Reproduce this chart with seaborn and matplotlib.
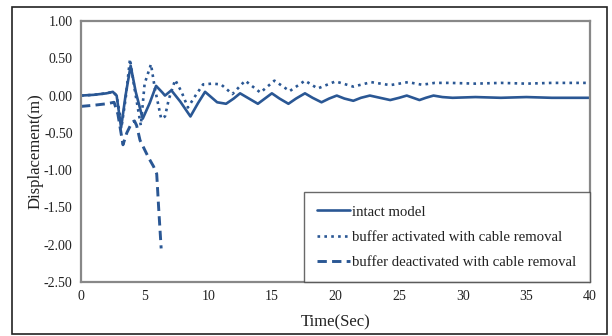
import numpy as np
import pandas as pd
import matplotlib
matplotlib.use("Agg")
import matplotlib.pyplot as plt
import seaborn as sns
from matplotlib.patches import Rectangle

# ---- data ----
t_intact = [0, 1, 2, 2.5, 2.8, 3.15, 3.5, 3.9, 4.3, 4.85, 5.4, 5.9, 6.4, 6.6, 7.1, 7.8, 8.6, 9.2,
            9.75, 10.7, 11.4, 12.0, 12.5, 13.2, 13.9, 14.45, 15.0, 15.6, 16.3, 16.9, 17.6, 18.2,
            18.9, 19.5, 20.1, 20.7, 21.4, 22.0, 22.7, 23.5, 24.3, 25.0, 25.6, 26.1, 26.6, 27.1,
            27.7, 28.4, 29.2, 31, 33, 35, 37, 40]
v_intact = [0.0, 0.01, 0.03, 0.05, 0.0, -0.43, 0.0, 0.40, 0.05, -0.31, -0.1, 0.13, 0.04, 0.0,
            0.07, -0.08, -0.28, -0.1, 0.05, -0.09, -0.11, -0.04, 0.03, -0.04, -0.11, -0.04, 0.03,
            -0.04, -0.11, -0.04, 0.03, -0.03, -0.09, -0.04, 0.0, -0.04, -0.07, -0.03, 0.0, -0.03,
            -0.06, -0.03, 0.0, -0.03, -0.06, -0.03, 0.0, -0.02, -0.03, -0.02, -0.03, -0.02, -0.03,
            -0.03]

t_active = [0, 1, 2, 2.5, 2.8, 3.2, 3.5, 3.85, 4.2, 4.7, 5.0, 5.5, 5.8, 6.3, 6.6, 6.9, 7.4, 7.9,
            8.4, 9.0, 9.6, 10.3, 11.0, 11.9, 12.9, 14.1, 15.2, 16.4, 17.6, 18.6, 20.0, 21.4, 22.8,
            24.3, 25.7, 26.8, 27.8, 29, 31, 33, 35, 37, 40]
v_active = [0.0, 0.01, 0.03, 0.05, 0.0, -0.40, -0.05, 0.49, 0.1, -0.40, 0.16, 0.42, 0.1, -0.31,
            -0.28, -0.05, 0.21, 0.05, -0.16, 0.0, 0.15, 0.16, 0.15, 0.02, 0.20, 0.04, 0.20, 0.06,
            0.20, 0.095, 0.19, 0.12, 0.18, 0.14, 0.18, 0.145, 0.17, 0.17, 0.16, 0.17, 0.16, 0.17,
            0.17]

t_deact = [0, 1, 2, 2.6, 2.9, 3.3, 3.6, 4.0, 4.2, 4.37, 4.64, 5.3, 5.7, 5.95, 6.1, 6.3]
v_deact = [-0.145, -0.13, -0.11, -0.09, -0.25, -0.66, -0.5, -0.36, -0.34, -0.40, -0.6, -0.83,
           -0.95, -1.05, -1.5, -2.05]

labels = ["intact model", "buffer activated with cable removal",
          "buffer deactivated with cable removal"]
y_ticks = [1.0, 0.5, 0.0, -0.5, -1.0, -1.5, -2.0, -2.5]
x_ticks = [0, 5, 10, 15, 20, 25, 30, 35, 40]

sns.set_theme(style="white")
plt.rcParams["font.family"] = ["Liberation Serif", "DejaVu Serif"]

color = "#2A5794"
fig = plt.figure(figsize=(6.12, 3.36), dpi=100)
ax = fig.add_axes([81 / 612, 1 - 282 / 336, (590 - 81) / 612, (282 - 21) / 336])

sns.lineplot(x=t_intact, y=v_intact, ax=ax, color=color, linewidth=1.9,
             label=labels[0], estimator=None)
sns.lineplot(x=t_active, y=v_active, ax=ax, color=color, linewidth=1.9,
             linestyle=(0, (1, 1.6)), label=labels[1], estimator=None)
sns.lineplot(x=t_deact, y=v_deact, ax=ax, color=color, linewidth=2.1,
             linestyle=(0, (3.2, 1.8)), label=labels[2], estimator=None)

ax.set_xlim(0, 40)
ax.set_ylim(-2.5, 1.0)
ax.set_xticks(x_ticks)
ax.set_xticklabels([str(x) for x in x_ticks])
ax.set_yticks(y_ticks)
ax.set_yticklabels([f"{y:.2f}" for y in y_ticks])
ax.tick_params(axis="both", length=0, labelsize=10, colors="#222222", pad=6)
for s in ax.spines.values():
    s.set_color("#888888")
    s.set_linewidth(1.6)
    s.set_visible(True)

ax.set_xlabel("Time(Sec)", fontsize=12, color="#222222", labelpad=8)
ax.set_ylabel("Displacement(m)", fontsize=12, color="#222222", labelpad=0)

leg = ax.legend(loc="lower right", bbox_to_anchor=(1.0, 0.0), borderaxespad=0.0,
                fancybox=False, frameon=True, fontsize=10.6, handlelength=2.2,
                handletextpad=0.2, labelspacing=0.8, borderpad=0.9)
leg.get_frame().set_edgecolor("#444444")
leg.get_frame().set_linewidth(1.0)
for txt in leg.get_texts():
    txt.set_color("#222222")

fig.patches.append(Rectangle((12 / 612, 2 / 336), (607 - 12) / 612, (329 - 2) / 336,
                             transform=fig.transFigure, fill=False,
                             edgecolor="#222222", linewidth=1.2))

fig.savefig("out.png", dpi=100)
